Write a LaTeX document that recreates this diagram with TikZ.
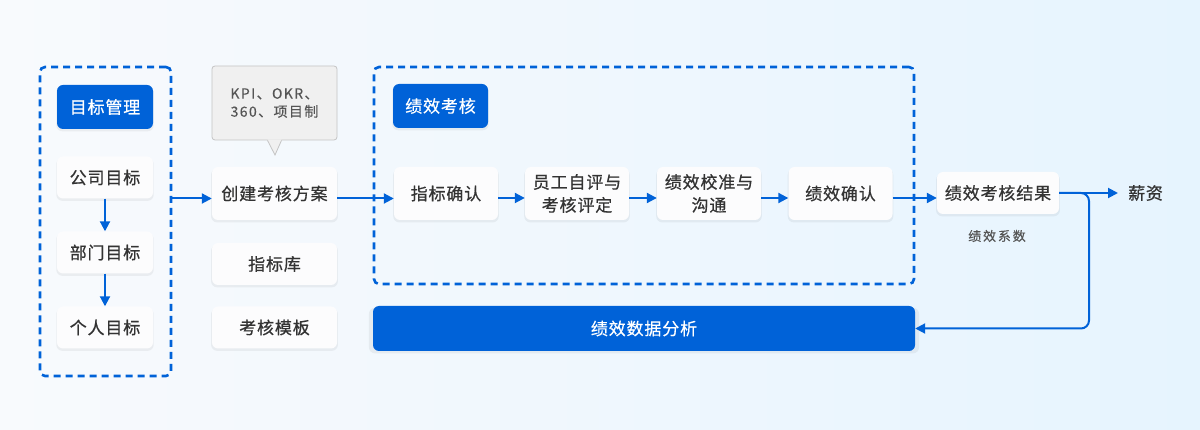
\documentclass[tikz,border=0pt]{standalone}
\usepackage{fontspec}
\setmainfont{Noto Sans CJK SC}
\usetikzlibrary{arrows.meta,shadows}
\definecolor{bgL}{HTML}{F8FAFD}
\definecolor{bgR}{HTML}{E6F4FE}
\definecolor{mblue}{HTML}{0062D8}
\definecolor{txt}{HTML}{333333}
\definecolor{gtxt}{HTML}{555555}
\definecolor{boxfill}{HTML}{FCFCFD}
\definecolor{callfill}{HTML}{F0F0F0}
\definecolor{callline}{HTML}{C4C4C4}
\tikzset{
  softshadow/.style={drop shadow={shadow xshift=0pt,shadow yshift=-2pt,shadow scale=1.015,opacity=0.05,fill=black}},
  wbox/.style={draw=none,fill=boxfill,rounded corners=6pt,inner sep=0pt,align=center,text=txt,
    font=\fontsize{17}{23}\selectfont\addfontfeatures{LetterSpace=5,FakeBold=0.7},softshadow},
  bbox/.style={draw=none,fill=mblue,rounded corners=6pt,inner sep=0pt,align=center,text=white,
    font=\fontsize{17}{23}\selectfont\addfontfeatures{LetterSpace=5,FakeBold=0.5},softshadow},
  dbox/.style={draw=mblue,line width=2.6pt,dash pattern=on 7pt off 5pt,rounded corners=5pt,inner sep=0pt},
  flow/.style={draw=mblue,line width=2pt,-{Triangle[length=10pt,width=10pt]}},
}
\begin{document}
\begin{tikzpicture}[x=1pt,y=-1pt]
\useasboundingbox (0,0) rectangle (1200,430);
\shade[left color=bgL,right color=bgR] (0,0) rectangle (1200,430);

% dashed groups
\node[dbox,minimum width=131pt,minimum height=309pt] (leftbox) at (105.5,221.5) {};
\node[dbox,minimum width=540pt,minimum height=217pt] (midbox) at (644,175.5) {};

% left column
\node[bbox,minimum width=96pt,minimum height=44pt] (goal) at (105,107) {目标管理};
\node[wbox,minimum width=96pt,minimum height=42pt] (comp) at (105,177.5) {公司目标};
\node[wbox,minimum width=96pt,minimum height=42pt] (dept) at (105,252.5) {部门目标};
\node[wbox,minimum width=96pt,minimum height=42pt] (pers) at (105,327.5) {个人目标};
\draw[flow] (comp.south) -- (dept.north);
\draw[flow] (dept.south) -- (pers.north);

% callout
\node[draw=callline,fill=callfill,line width=0.8pt,rounded corners=3pt,minimum width=125pt,minimum height=74pt,
  inner sep=0pt,align=center,text=gtxt,font=\fontsize{14}{18}\selectfont\addfontfeatures{LetterSpace=10,FakeBold=0.3}]
  (callout) at (274.5,103) {KPI、OKR、\\360、项目制};
\coordinate (tip) at (275,155);
\fill[callfill] ([xshift=-7pt,yshift=1pt]callout.south) -- (tip) -- ([xshift=7pt,yshift=1pt]callout.south) -- cycle;
\draw[callline,line width=0.8pt] ([xshift=-7pt]callout.south) -- (tip) -- ([xshift=7pt]callout.south);

% second column
\node[wbox,minimum width=125pt,minimum height=53pt] (create) at (274.5,193.5) {创建考核方案};
\node[wbox,minimum width=125pt,minimum height=42pt] (lib) at (274.5,264) {指标库};
\node[wbox,minimum width=125pt,minimum height=42pt] (tmpl) at (274.5,327.5) {考核模板};

% middle group
\node[bbox,minimum width=95pt,minimum height=44pt] (perf) at (440.5,106) {绩效考核};
\node[wbox,minimum width=104pt,minimum height=53pt] (s1) at (446,193.5) {指标确认};
\node[wbox,minimum width=104pt,minimum height=53pt] (s2) at (577,193.5) {员工自评与\\考核评定};
\node[wbox,minimum width=104pt,minimum height=53pt] (s3) at (709,193.5) {绩效校准与\\沟通};
\node[wbox,minimum width=104pt,minimum height=53pt] (s4) at (840.5,193.5) {绩效确认};

% result
\node[wbox,minimum width=122pt,minimum height=42pt] (result) at (998,193) {绩效考核结果};
\node[text=gtxt,inner sep=0pt,font=\fontsize{13}{16}\selectfont\addfontfeatures{LetterSpace=14,FakeBold=0.3}] (coef) at (997,236) {绩效系数};
\node[text=txt,inner sep=0pt,anchor=west,font=\fontsize{17}{20}\selectfont\addfontfeatures{LetterSpace=4,FakeBold=0.7}] (pay) at (1128,193) {薪资};

% analysis bar
\node[bbox,minimum width=542pt,minimum height=45pt] (ana) at (644,328.5) {绩效数据分析};

% connectors
\draw[flow] ([yshift=-5pt]leftbox.east |- create.east) -- ([yshift=-5pt]create.west);
\draw[flow] ([yshift=-5pt]create.east) -- ([yshift=-5pt]s1.west);
\draw[flow] ([yshift=-4.5pt]s1.east) -- ([yshift=-4.5pt]s2.west);
\draw[flow] ([yshift=-4.5pt]s2.east) -- ([yshift=-4.5pt]s3.west);
\draw[flow] ([yshift=-4.5pt]s3.east) -- ([yshift=-4.5pt]s4.west);
\draw[flow] ([yshift=-4.5pt]s4.east) -- ([yshift=-4.5pt]s4.east -| result.west);
\coordinate (branch) at (1089,193);
\draw[flow] (result.east) -- ([xshift=-10pt]pay.west);
\draw[flow,rounded corners=8pt] (result.east) -- (branch) -- (branch |- ana.east) -- (ana.east);
\end{tikzpicture}
\end{document}
